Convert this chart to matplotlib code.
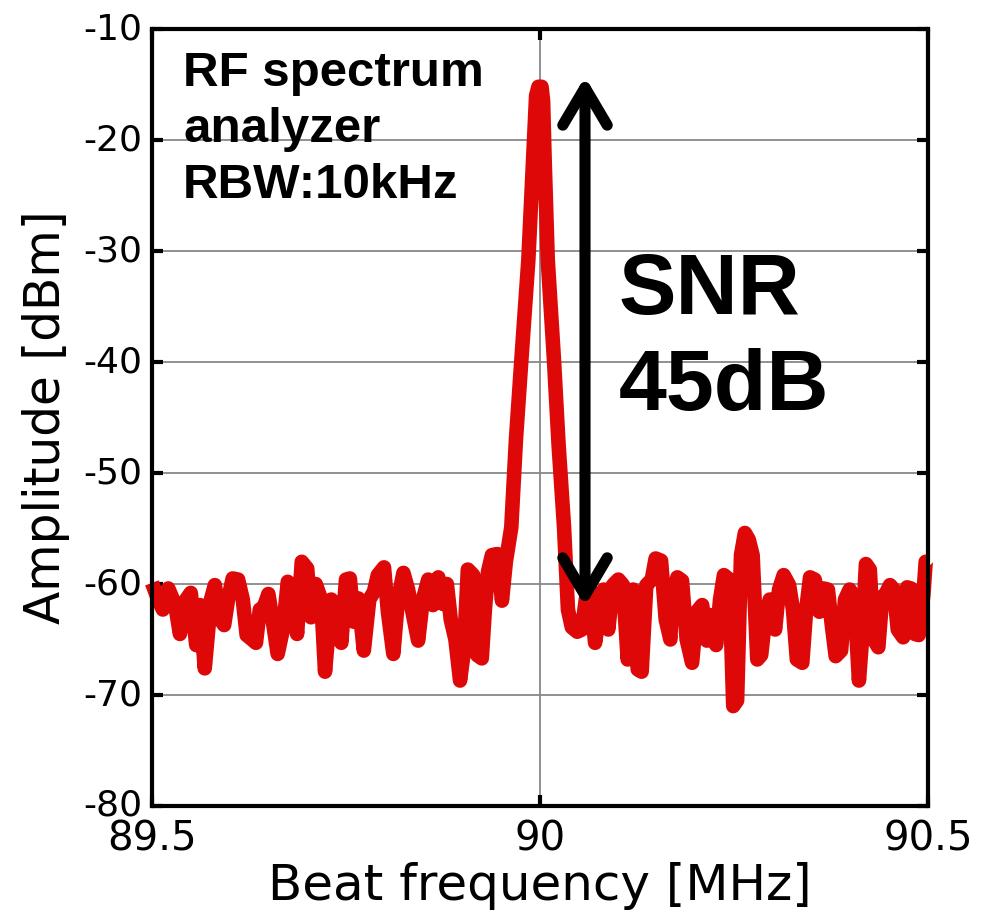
import matplotlib
matplotlib.use("Agg")
import matplotlib.pyplot as plt

# ---- data ----
freq_mhz = [
    89.500, 89.508, 89.514, 89.521, 89.530, 89.536, 89.544, 89.550, 89.557, 89.562,
    89.568, 89.576, 89.581, 89.588, 89.593, 89.598, 89.604, 89.611, 89.617, 89.622,
    89.629, 89.634, 89.639, 89.644, 89.650, 89.656, 89.662, 89.669, 89.675, 89.683,
    89.687, 89.693, 89.700, 89.705, 89.711, 89.718, 89.723, 89.731, 89.737, 89.744,
    89.750, 89.755, 89.760, 89.766, 89.773, 89.780, 89.786, 89.791, 89.799, 89.804,
    89.811, 89.817, 89.824, 89.830, 89.835, 89.843, 89.849, 89.856, 89.862, 89.869,
    89.875, 89.880, 89.885, 89.891, 89.897, 89.902, 89.907, 89.914, 89.919, 89.925,
    89.929, 89.933, 89.938, 89.945, 89.951, 89.956,
    89.963, 89.969, 89.976, 89.985, 89.991, 89.995, 89.998, 90.002, 90.004, 90.006,
    90.010, 90.018, 90.024, 90.031,
    90.036, 90.041, 90.048, 90.054, 90.059, 90.064, 90.071, 90.077, 90.082, 90.088,
    90.094, 90.101, 90.107, 90.113, 90.120, 90.126, 90.131, 90.137, 90.144, 90.149,
    90.156, 90.162, 90.168, 90.170, 90.177, 90.183, 90.189, 90.196, 90.202, 90.209,
    90.215, 90.220, 90.227, 90.232, 90.237, 90.244, 90.249, 90.254, 90.259, 90.264,
    90.269, 90.274, 90.280, 90.285, 90.290, 90.296, 90.303, 90.308, 90.314, 90.321,
    90.326, 90.331, 90.338, 90.343, 90.348, 90.354, 90.360, 90.365, 90.371, 90.376,
    90.381, 90.388, 90.393, 90.399, 90.405, 90.411, 90.415, 90.420, 90.425, 90.430,
    90.436, 90.441, 90.446, 90.451, 90.456, 90.461, 90.468, 90.473, 90.478, 90.483,
    90.488, 90.494, 90.497, 90.500,
]
amplitude_dbm = [
    -59.9, -61.4, -62.3, -60.4, -61.9, -64.5, -61.4, -60.8, -65.5, -61.9,
    -67.6, -61.4, -60.1, -63.2, -63.7, -61.4, -59.5, -59.6, -61.4, -64.6,
    -65.0, -65.3, -62.3, -62.1, -60.9, -63.5, -66.3, -64.0, -59.8, -61.5,
    -64.5, -58.0, -58.6, -63.0, -60.0, -61.4, -67.9, -61.4, -61.9, -65.3,
    -59.6, -59.5, -63.4, -61.3, -66.0, -61.4, -60.7, -59.2, -58.5, -62.5,
    -66.3, -61.4, -59.0, -60.5, -62.3, -65.1, -61.4, -59.6, -61.9, -59.4,
    -61.8, -60.0, -63.2, -65.0, -68.7, -66.0, -58.7, -59.2, -66.4, -66.7,
    -62.3, -58.9, -57.4, -57.3, -61.5, -58.0,
    -54.9, -47.0, -39.8, -30.8, -21.8, -16.0, -15.2, -15.2, -16.5, -21.8,
    -30.8, -39.8, -47.5, -54.9,
    -62.3, -63.9, -64.3, -64.1, -61.4, -60.3, -65.3, -62.3, -60.5, -64.1,
    -60.1, -59.6, -60.1, -66.8, -60.5, -67.7, -67.9, -60.1, -59.6, -57.7,
    -57.9, -63.2, -65.0, -61.4, -59.4, -59.7, -65.0, -67.1, -62.5, -61.9,
    -65.1, -62.8, -65.5, -61.4, -59.2, -59.6, -71.0, -70.5, -57.4, -55.4,
    -56.0, -57.4, -66.8, -66.4, -63.2, -61.4, -64.1, -60.5, -59.2, -60.1,
    -62.3, -66.8, -67.1, -62.3, -59.4, -59.6, -62.5, -60.4, -60.5, -63.7,
    -66.5, -66.0, -61.4, -60.5, -61.2, -68.7, -65.0, -58.2, -58.7, -65.0,
    -65.7, -61.2, -60.8, -60.1, -60.5, -64.1, -64.8, -60.3, -60.4, -64.5,
    -64.6, -61.0, -58.0, -58.0,
]
x_ticks = [89.5, 90.0, 90.5]
x_tick_labels = ["89.5", "90", "90.5"]
y_ticks = [-80, -70, -60, -50, -40, -30, -20, -10]
y_tick_labels = ["-80", "-70", "-60", "-50", "-40", "-30", "-20", "-10"]
info_text = "RF spectrum\nanalyzer\nRBW:10kHz"
snr_text = "SNR\n45dB"
arrow_x = 90.058
arrow_top = -14.3
arrow_bottom = -62.0

# ---- figure ----
fig = plt.figure(figsize=(9.92, 9.13), dpi=100)
ax = fig.add_axes([0.1532, 0.1172, 0.7823, 0.8510])

ax.plot(freq_mhz, amplitude_dbm, color="#de0808", lw=10.5,
        solid_joinstyle="round", solid_capstyle="butt", zorder=3, clip_on=False)

ax.set_xlim(89.5, 90.5)
ax.set_ylim(-80, -10)
ax.set_xticks(x_ticks)
ax.set_xticklabels(x_tick_labels, fontsize=29, family="DejaVu Sans")
ax.set_yticks(y_ticks)
ax.set_yticklabels(y_tick_labels, fontsize=26, family="DejaVu Sans")
for lbl in ax.get_yticklabels():
    lbl.set_verticalalignment("center")
ax.tick_params(axis="both", direction="in", length=8, width=3,
               top=True, right=True)
ax.tick_params(axis="y", pad=7)
ax.tick_params(axis="x", pad=10)

ax.grid(True, color="#888888", lw=1.3, zorder=1)
ax.set_axisbelow(True)
for sp in ax.spines.values():
    sp.set_linewidth(3)
    sp.set_color("black")
    sp.set_zorder(5)

ax.set_xlabel("Beat frequency [MHz]", fontsize=36, family="DejaVu Sans")
ax.xaxis.set_label_coords(0.5, -0.072)
ax.set_ylabel("Amplitude [dBm]", fontsize=35, family="DejaVu Sans")
ax.yaxis.set_label_coords(-0.106, 0.5)

ax.text(0.04, 0.972, info_text, transform=ax.transAxes, ha="left", va="top",
        fontsize=35.5, fontweight="bold", family="Liberation Sans",
        linespacing=1.32, zorder=6)
ax.text(0.601, 0.600, snr_text, transform=ax.transAxes, ha="left", va="center",
        fontsize=62, fontweight="bold", family="Liberation Sans",
        linespacing=1.25, zorder=6)

ax.annotate("", xy=(arrow_x, arrow_top), xytext=(arrow_x, arrow_bottom),
            arrowprops=dict(arrowstyle="<->,head_length=1.35,head_width=0.8",
                            lw=8, color="black", shrinkA=0, shrinkB=0,
                            mutation_scale=20, capstyle="round",
                            joinstyle="round"),
            zorder=6)

fig.savefig("out.png", dpi=100)
